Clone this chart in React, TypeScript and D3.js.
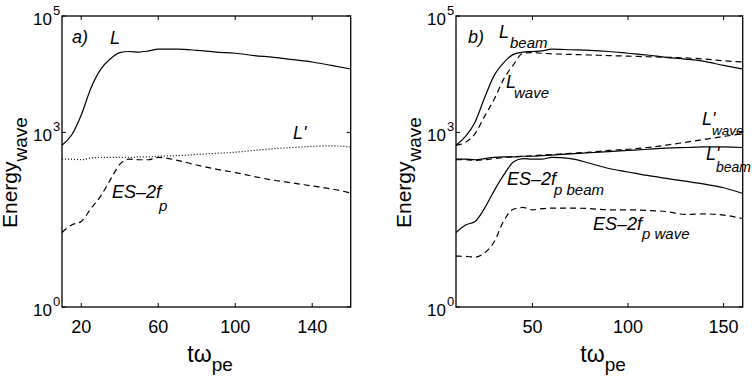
import React from 'react';
import * as d3 from 'd3';

// sample times (t * omega_pe)
const time = [10, 15, 20, 25, 30, 35, 40, 45, 50, 55, 60, 70, 80, 90, 100, 110, 120, 130, 140, 150, 160];

// panel a)
const aL = [603, 902, 1995, 5754, 12020, 18200, 23440, 24550, 23990, 25120, 26920, 26920, 25700, 23990, 22910, 20890, 19500, 17780, 16220, 14130, 12300];
const aLprime = [347, 347, 339, 363, 372, 372, 372, 372, 380, 380, 389, 398, 417, 437, 457, 490, 525, 550, 575, 589, 562];
const aES2fp = [19.1, 25.7, 29.5, 49.0, 79.4, 151, 282, 347, 339, 339, 372, 331, 275, 234, 204, 174, 151, 135, 120, 107, 91.2];

// panel b)
const bLbeam = [603, 851, 1514, 3981, 9550, 15850, 21880, 23990, 24550, 25120, 26920, 26300, 25700, 24550, 22910, 21380, 19500, 18200, 16600, 14130, 12300];
const bLwave = [603, 676, 955, 1905, 3715, 8318, 14450, 22910, 23440, 22910, 22390, 21880, 21380, 20890, 20420, 19950, 19500, 19050, 18200, 16980, 16220];
const bLprimeWave = [339, 339, 331, 339, 355, 372, 380, 389, 398, 407, 417, 437, 457, 490, 513, 550, 603, 676, 759, 851, 955];
const bLprimeBeam = [347, 347, 339, 355, 372, 380, 380, 389, 389, 398, 407, 427, 447, 468, 490, 513, 537, 550, 562, 562, 550];
const bESbeam = [19.1, 25.7, 29.5, 50.1, 100, 186, 309, 355, 347, 347, 372, 355, 295, 240, 209, 182, 162, 145, 129, 112, 89.1];
const bESwave = [7.5, 7.4, 7.2, 8.5, 13.2, 30.2, 47.9, 51.3, 46.8, 49.0, 50.1, 50.1, 49.0, 46.8, 46.8, 45.7, 43.7, 38.9, 39.8, 38.0, 33.1];

const xTicksA = [20, 60, 100, 140];
const xTicksB = [50, 100, 150];
const yTicks = [1, 1e3, 1e5];
const yTickExp = ['0', '3', '5'];

const FONT = 'Liberation Sans, Arial, Helvetica, sans-serif';
const TOP = 16;
const BOTTOM = 307;
const DASH = '6,4';
const DOT = '1,2';

type Series = { values: number[]; dash?: string };

function Panel({ x0, x1, xTicks, series, children }: {
  x0: number; x1: number; xTicks: number[]; series: Series[]; children?: React.ReactNode;
}) {
  const x = d3.scaleLinear().domain([10, 160]).range([x0, x1]);
  const y = d3.scaleLog().domain([1, 1e5]).range([BOTTOM, TOP]);
  const line = d3.line<number>()
    .x((d, i) => x(time[i]))
    .y(d => y(d))
    .curve(d3.curveMonotoneX);
  const tl = 4;
  const labelX = x0 - 45; // y axis label baseline

  return (
    <g fontFamily={FONT}>
      {series.map((s, i) => (
        <path key={i} d={line(s.values) || ''} fill="none" stroke="#000" strokeWidth={1.2}
          strokeDasharray={s.dash} />
      ))}
      <rect x={x0} y={TOP} width={x1 - x0} height={BOTTOM - TOP} fill="none" stroke="#000" strokeWidth={1.3} />
      {xTicks.map(t => (
        <g key={t}>
          <line x1={x(t)} x2={x(t)} y1={BOTTOM} y2={BOTTOM - tl} stroke="#000" />
          <line x1={x(t)} x2={x(t)} y1={TOP} y2={TOP + tl} stroke="#000" />
          <text x={x(t)} y={BOTTOM + 26} textAnchor="middle" fontSize={18}>{t}</text>
        </g>
      ))}
      {yTicks.map((v, i) => (
        <g key={v}>
          <line x1={x0} x2={x0 + tl} y1={y(v)} y2={y(v)} stroke="#000" />
          <line x1={x1} x2={x1 - tl} y1={y(v)} y2={y(v)} stroke="#000" />
          <text x={x0 - 10} y={y(v) + 9} textAnchor="end" fontSize={17}>10</text>
          <text x={x0 - 9} y={y(v) - 1} fontSize={13}>{yTickExp[i]}</text>
        </g>
      ))}
      <text transform={`translate(${labelX},228) rotate(-90)`} fontSize={21}>
        Energy<tspan dy={10} fontSize={19}>wave</tspan>
      </text>
      <text x={(x0 + x1) / 2 - 19} y={362} fontSize={23}>
        tω<tspan dy={9} fontSize={19}>pe</tspan>
      </text>
      {children}
    </g>
  );
}

export default function App() {
  const it = { fontStyle: 'italic' as const };
  return (
    <svg width={752} height={378} style={{ position: 'absolute', left: 0, top: 0, background: '#fff' }}>
      <Panel x0={62} x1={350.7} xTicks={xTicksA}
        series={[{ values: aL }, { values: aLprime, dash: DOT }, { values: aES2fp, dash: DASH }]}>
        <g fontSize={18} style={it}>
          <text x={72} y={43}>a)</text>
          <text x={110} y={44}>L</text>
          <text x={293} y={139}>L'</text>
          <text x={112} y={198}>ES–2f</text>
          <text x={159} y={211} fontSize={15}>p</text>
        </g>
      </Panel>
      <Panel x0={456} x1={742.7} xTicks={xTicksB}
        series={[
          { values: bLbeam }, { values: bLwave, dash: DASH },
          { values: bLprimeWave, dash: DASH }, { values: bLprimeBeam },
          { values: bESbeam }, { values: bESwave, dash: DASH },
        ]}>
        <g fontSize={18} style={it}>
          <text x={468} y={43}>b)</text>
          <text x={499} y={38}>L</text>
          <text x={510} y={48} fontSize={15}>beam</text>
          <text x={506} y={88}>L</text>
          <text x={514} y={98} fontSize={15}>wave</text>
          <text x={702} y={125}>L'</text>
          <text x={712} y={135} fontSize={13.5}>wave</text>
          <text x={706} y={160}>L'</text>
          <text x={716} y={172} fontSize={14}>beam</text>
          <text x={507} y={185}>ES–2f</text>
          <text x={554} y={195} fontSize={15}>p beam</text>
          <text x={593} y={230}>ES–2f</text>
          <text x={642} y={239} fontSize={15}>p wave</text>
        </g>
      </Panel>
    </svg>
  );
}
